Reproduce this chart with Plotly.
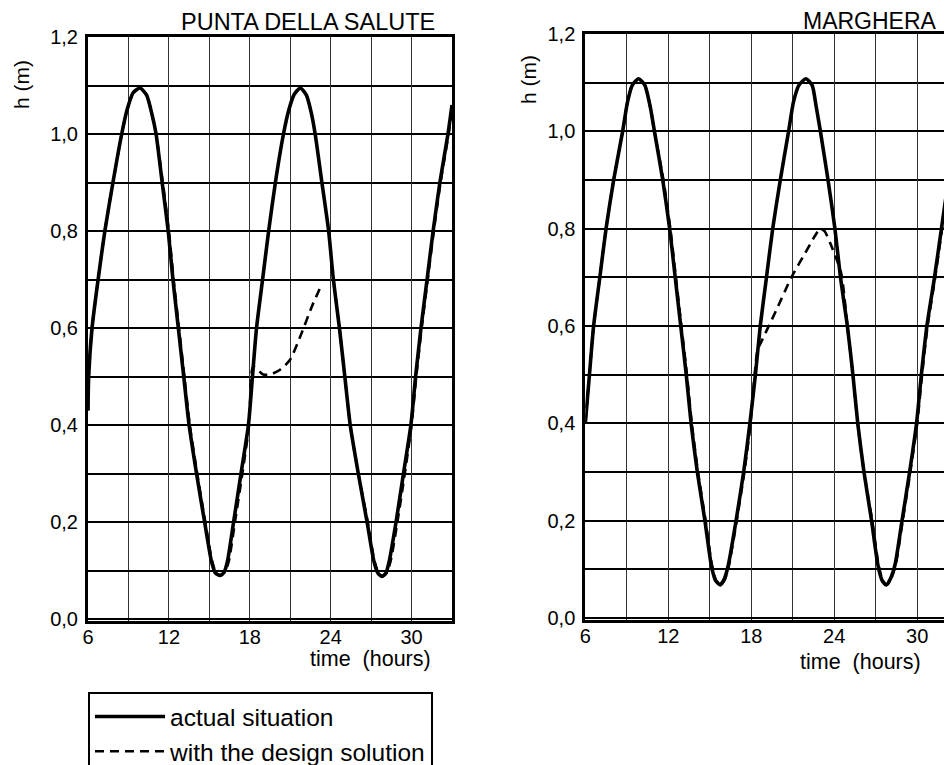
import plotly.graph_objects as go

# ---------------- data ----------------
# PUNTA DELLA SALUTE - actual situation
psal_t = [6.0, 6.05, 6.3, 6.75, 7.25, 7.85, 8.5, 8.9, 9.35, 9.85, 10.35, 10.75, 11.05,
          11.5, 11.95, 12.3, 12.7, 13.1, 13.5, 14.05, 14.65, 15.15, 15.45, 15.8, 16.1,
          16.35, 16.8, 17.35, 17.9, 18.2, 18.5, 18.95, 19.4, 19.9, 20.5, 20.9, 21.3,
          21.75, 22.2, 22.55, 22.85, 23.35, 23.85, 24.2, 24.65, 25.05, 25.45, 26.05,
          26.7, 27.2, 27.5, 27.8, 28.1, 28.35, 28.85, 29.4, 29.95, 30.3, 30.7, 31.15,
          31.6, 32.1, 32.7, 33.0]
psal_h = [0.43, 0.5, 0.6, 0.7, 0.8, 0.9, 1.0, 1.05, 1.085, 1.095, 1.08, 1.04, 1.0,
          0.9, 0.8, 0.7, 0.6, 0.5, 0.4, 0.3, 0.2, 0.12, 0.095, 0.09, 0.097,
          0.12, 0.2, 0.3, 0.4, 0.5, 0.6, 0.7, 0.8, 0.9, 1.0, 1.05, 1.082,
          1.095, 1.08, 1.045, 1.0, 0.9, 0.8, 0.7, 0.6, 0.5, 0.4, 0.3,
          0.2, 0.12, 0.095, 0.088, 0.095, 0.12, 0.2, 0.3, 0.4, 0.5, 0.6, 0.7,
          0.8, 0.9, 1.0, 1.06]

# PUNTA DELLA SALUTE - with the design solution (None = break in the line)
psal_d_t = [6.0, 6.05, 6.3, 6.75, 7.25, 7.85, 8.5, 8.9, 9.35, 9.85, 10.35, 10.75, 11.05,
            11.55, 12.0, 12.35, 12.75, 13.15, 13.55, 14.1, 14.7, 15.2, 15.5, 15.85, 16.15,
            16.45, 16.9, 17.45, 17.95, 18.25, 19.0, 19.6, 20.3, 21.0, 21.85, 22.6, 23.35,
            None, 24.2, 24.65, 25.05, 25.45, 26.05, 26.75, 27.25, 27.55, 27.85, 28.15,
            28.45, 28.95, 29.5, 30.0, 30.35, 30.75, 31.2, 31.65, 32.15, 32.75, 33.0]
psal_d_h = [0.43, 0.5, 0.6, 0.7, 0.8, 0.9, 1.0, 1.05, 1.085, 1.095, 1.08, 1.04, 1.0,
            0.9, 0.8, 0.7, 0.6, 0.5, 0.4, 0.3, 0.2, 0.12, 0.095, 0.09, 0.097,
            0.12, 0.2, 0.3, 0.4, 0.52, 0.504, 0.505, 0.515, 0.535, 0.59, 0.644, 0.691,
            None, 0.70, 0.6, 0.5, 0.4, 0.3, 0.2, 0.12, 0.095, 0.088, 0.095,
            0.12, 0.2, 0.3, 0.4, 0.5, 0.6, 0.7, 0.8, 0.9, 1.0, 1.05]

# MARGHERA - actual situation
marg_t = [6.0, 6.3, 6.6, 7.05, 7.5, 8.05, 8.7, 9.05, 9.4, 9.85, 10.3, 10.7, 11.0,
          11.6, 12.1, 12.5, 12.9, 13.3, 13.65, 14.1, 14.65, 15.1, 15.4, 15.75, 16.05,
          16.35, 16.9, 17.45, 17.9, 18.3, 18.65, 19.1, 19.55, 20.1, 20.7, 21.05, 21.45,
          21.95, 22.4, 22.7, 23.0, 23.55, 24.05, 24.45, 24.95, 25.35, 25.7, 26.15,
          26.7, 27.15, 27.45, 27.75, 28.05, 28.4, 28.9, 29.45, 29.95, 30.3, 30.7,
          31.25, 31.75, 32.25, 32.7, 33.1]
marg_h = [0.40, 0.5, 0.6, 0.7, 0.8, 0.9, 1.0, 1.06, 1.095, 1.108, 1.095, 1.05, 1.0,
          0.9, 0.8, 0.7, 0.6, 0.5, 0.4, 0.3, 0.2, 0.11, 0.078, 0.068, 0.08,
          0.11, 0.2, 0.3, 0.4, 0.5, 0.6, 0.7, 0.8, 0.9, 1.0, 1.06, 1.095,
          1.108, 1.095, 1.05, 1.0, 0.9, 0.8, 0.7, 0.6, 0.5, 0.4, 0.3,
          0.2, 0.11, 0.078, 0.068, 0.08, 0.11, 0.2, 0.3, 0.4, 0.5, 0.6,
          0.7, 0.8, 0.9, 1.0, 1.07]

# MARGHERA - with the design solution
marg_d_t = [6.0, 6.3, 6.6, 7.05, 7.5, 8.05, 8.7, 9.05, 9.4, 9.85, 10.3, 10.7, 11.0,
            11.65, 12.15, 12.55, 12.95, 13.35, 13.7, 14.15, 14.7, 15.15, 15.45, 15.8,
            16.1, 16.4, 16.95, 17.5, 17.95, 18.45, 18.8, 19.8, 20.9, 21.9, 22.6,
            22.97, 23.3, 23.7, 24.5, 24.95, 25.35, 25.7, 26.15, 26.75, 27.2, 27.5,
            27.8, 28.1, 28.45, 28.95, 29.5, 30.0, 30.35, 30.75, 31.3, 31.8, 32.3, 32.75,
            33.1]
marg_d_h = [0.40, 0.5, 0.6, 0.7, 0.8, 0.9, 1.0, 1.06, 1.095, 1.108, 1.095, 1.05, 1.0,
            0.9, 0.8, 0.7, 0.6, 0.5, 0.4, 0.3, 0.2, 0.11, 0.078, 0.068,
            0.08, 0.11, 0.2, 0.3, 0.4, 0.55, 0.572, 0.632, 0.7, 0.75, 0.785,
            0.80, 0.795, 0.771, 0.709, 0.6, 0.5, 0.4, 0.3, 0.2, 0.11, 0.078,
            0.068, 0.08, 0.11, 0.2, 0.3, 0.4, 0.5, 0.6, 0.7, 0.8, 0.9, 1.0,
            1.07]

x_ticks = [6, 12, 18, 24, 30]
panel_titles = ["PUNTA DELLA SALUTE", "MARGHERA"]
legend_names = ["actual situation", "with the design solution"]
y_title = "h (m)"
x_title = "time\u00a0 (hours)"

# ---------------- figure ----------------
W, H = 952, 765
OFF = 8  # the page body margin shifts the figure by this many px
FONT = "Liberation Sans, Arial, Helvetica, sans-serif"

fig = go.Figure()

solid = dict(color="black", width=3.6, shape="spline", smoothing=0.6)
dashed = dict(color="black", width=2.6, dash="9px,6px", shape="spline", smoothing=0.6)

fig.add_trace(go.Scatter(x=psal_d_t, y=psal_d_h, mode="lines", line=dashed,
                         name=legend_names[1], xaxis="x", yaxis="y",
                         connectgaps=False, showlegend=False))
fig.add_trace(go.Scatter(x=psal_t, y=psal_h, mode="lines", line=solid,
                         name=legend_names[0], xaxis="x", yaxis="y",
                         legendrank=1))
fig.add_trace(go.Scatter(x=marg_d_t, y=marg_d_h, mode="lines", line=dashed,
                         name=legend_names[1], xaxis="x2", yaxis="y2",
                         legendrank=2))
fig.add_trace(go.Scatter(x=marg_t, y=marg_h, mode="lines", line=solid,
                         name=legend_names[0], xaxis="x2", yaxis="y2",
                         showlegend=False))

def px_x(p):
    return (p - OFF) / W

def px_y(p):
    return (H - (p - OFF)) / H

xcommon = dict(
    tickmode="array", tickvals=x_ticks, ticktext=[str(v) for v in x_ticks],
    showgrid=True, gridcolor="#333333", gridwidth=1,
    minor=dict(tick0=6, dtick=3, showgrid=True, gridcolor="#333333", gridwidth=1),
    showline=True, linecolor="black", linewidth=3, mirror=True,
    ticks="", zeroline=False, automargin=False, ticklabelstandoff=-4,
    tickfont=dict(family=FONT, size=20, color="black"),
)
ycommon = dict(
    tickmode="linear", tick0=0, dtick=0.2, tickformat=".1f",
    showgrid=True, gridcolor="black", gridwidth=2,
    minor=dict(tick0=0, dtick=0.1, showgrid=True, gridcolor="black", gridwidth=2),
    showline=True, linecolor="black", linewidth=3,
    ticks="", zeroline=False, ticklabelstandoff=3, automargin=False,
    tickfont=dict(family=FONT, size=20, color="black"),
)

# right panel runs off the right edge of the picture
x2_left = 585.3
x2_px_per_h = 13.83
x2_end = 6 + (W + OFF - x2_left) / x2_px_per_h

fig.update_layout(
    width=W, height=H,
    margin=dict(l=0, r=0, t=0, b=0, autoexpand=False),
    paper_bgcolor="white", plot_bgcolor="white",
    separators=",.",
    font=dict(family=FONT, color="black"),
    xaxis=dict(domain=[px_x(88), px_x(452)], range=[6, 33], anchor="y", **xcommon),
    yaxis=dict(domain=[px_y(621), px_y(37)], range=[-0.004, 1.2], anchor="x",
               mirror=True, **ycommon),
    xaxis2=dict(domain=[px_x(x2_left), 1.0], range=[6, x2_end], anchor="y2", **xcommon),
    yaxis2=dict(domain=[px_y(620), px_y(34)], range=[-0.004, 1.2], anchor="x2",
                mirror=False, **ycommon),
    showlegend=True,
    legend=dict(xref="container", yref="container",
                x=px_x(88), y=px_y(692), xanchor="left", yanchor="top",
                bordercolor="black", borderwidth=2, bgcolor="white",
                font=dict(family=FONT, size=24.5, color="black"),
                itemwidth=70, tracegroupgap=4, traceorder="normal"),
)

annots = [
    dict(text=panel_titles[0], x=px_x(437), y=px_y(22), xanchor="right", yanchor="middle",
         font=dict(size=23.5)),
    dict(text=panel_titles[1], x=px_x(939), y=px_y(21), xanchor="right", yanchor="middle",
         font=dict(size=23)),
    dict(text=y_title, x=px_x(22), y=px_y(85), xanchor="center", yanchor="middle",
         textangle=-90, font=dict(size=21)),
    dict(text=y_title, x=px_x(528), y=px_y(80), xanchor="center", yanchor="middle",
         textangle=-90, font=dict(size=21)),
    dict(text=x_title, x=px_x(433), y=px_y(659), xanchor="right", yanchor="middle",
         font=dict(size=21.5)),
    dict(text=x_title, x=px_x(923), y=px_y(662), xanchor="right", yanchor="middle",
         font=dict(size=21.5)),
]
for a in annots:
    a.update(xref="paper", yref="paper", showarrow=False)
    a["font"].update(family=FONT, color="black")
fig.update_layout(annotations=annots)

fig.write_html("out.html")
